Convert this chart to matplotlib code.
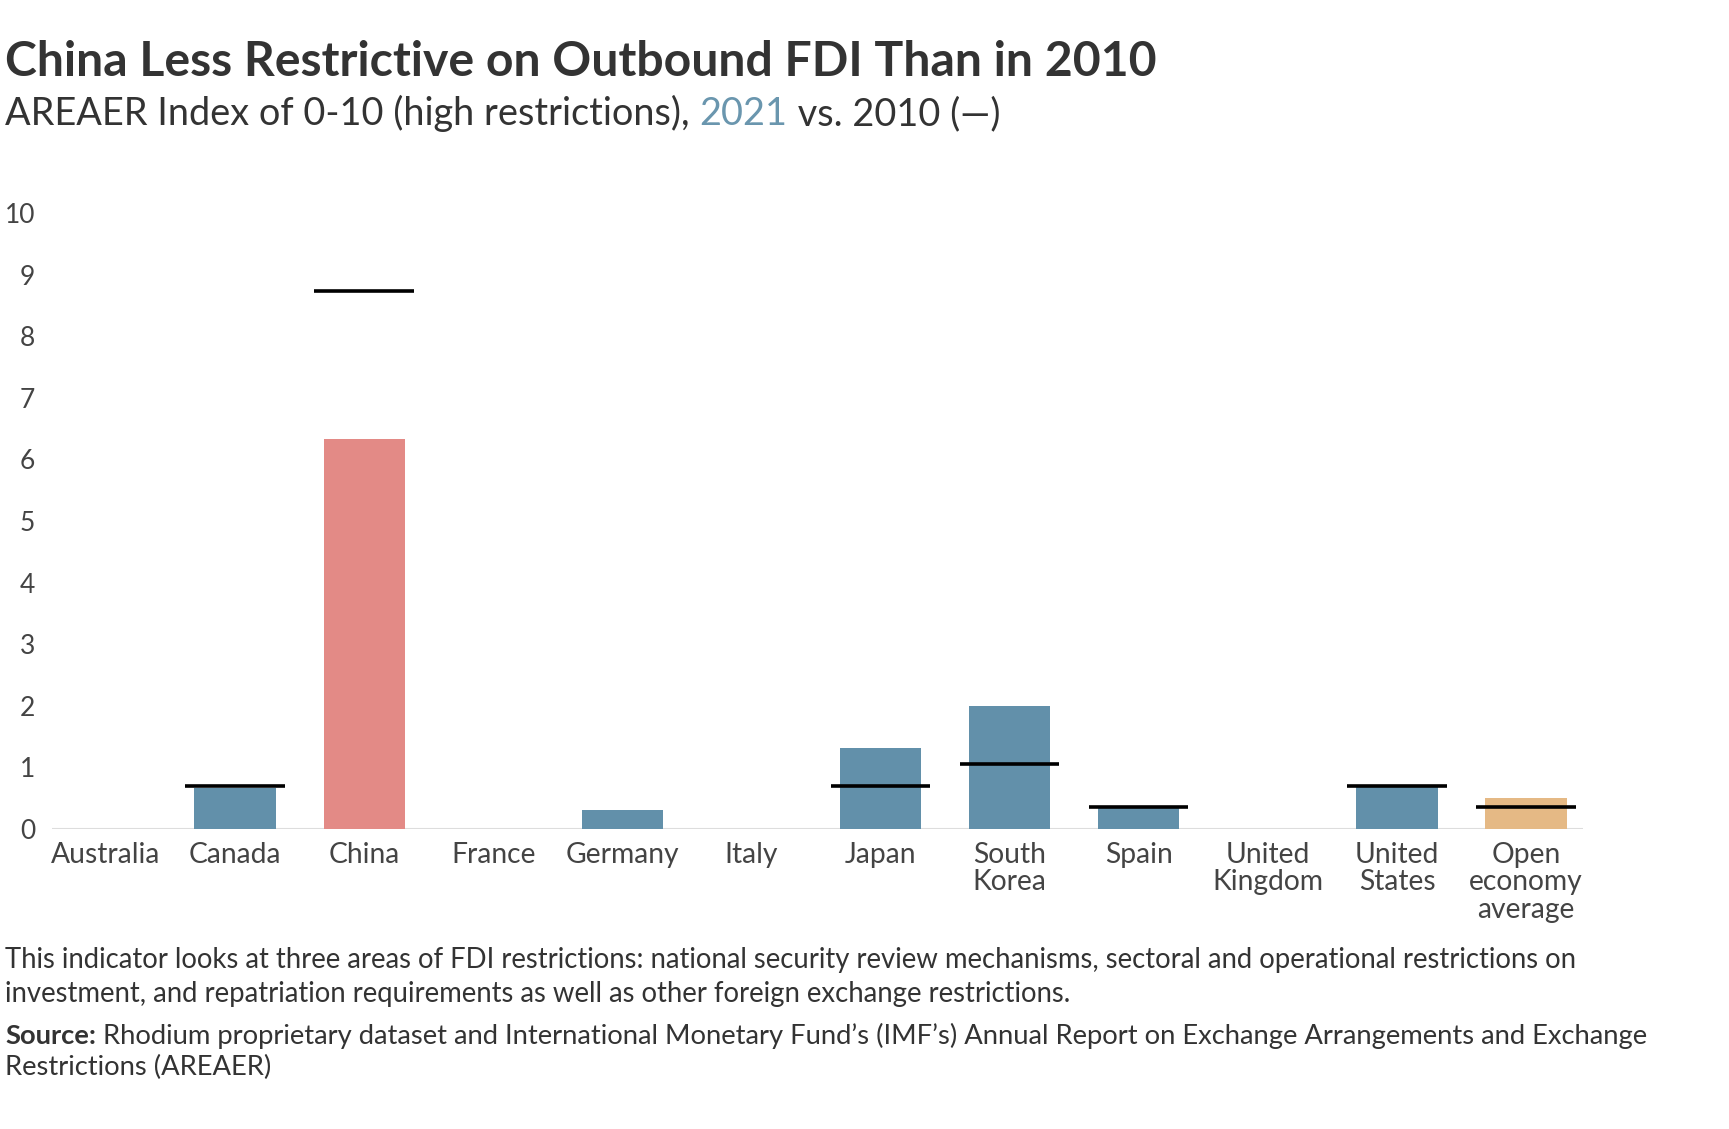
import matplotlib
matplotlib.use("Agg")
import matplotlib.pyplot as plt
import numpy as np

categories = ["Australia", "Canada", "China", "France", "Germany", "Italy", "Japan",
              "South\nKorea", "Spain", "United\nKingdom", "United\nStates", "Open\neconomy\naverage"]
values_2021 = [0.0, 0.67, 6.33, 0.0, 0.31, 0.0, 1.31, 1.99, 0.34, 0.0, 0.68, 0.51]
values_2010 = [np.nan, 0.70, 8.73, np.nan, np.nan, np.nan, 0.70, 1.06, 0.36, np.nan, 0.70, 0.35]
yticks = [0, 1, 2, 3, 4, 5, 6, 7, 8, 9, 10]

BLUE = "#6290AA"
RED = "#E38A86"
TAN = "#E5B985"
bar_colors = [BLUE] * len(categories)
bar_colors[2] = RED
bar_colors[-1] = TAN

FONT = ["Lato", "DejaVu Sans"]
plt.rcParams["font.family"] = FONT

fig = plt.figure(figsize=(17.29, 11.29), dpi=100)
ax = fig.add_axes([0.030, 0.2657, 0.8858, 0.5456])

x = np.arange(len(categories))
ax.bar(x, values_2021, width=0.63, color=bar_colors, zorder=2)
ax.hlines(values_2010, x - 0.385, x + 0.385, color="black", lw=2.6, zorder=3)
ax.axhline(0, color="#dddddd", lw=1.5, zorder=1)

ax.set_xlim(-0.419, 11.444)
ax.set_ylim(0, 10)
ax.set_yticks(yticks)
ax.set_yticklabels([str(t) for t in yticks], fontsize=19, color="#444444")
ax.set_xticks(x)
ax.set_xticklabels(categories, fontsize=20.3, color="#444444", linespacing=1.09, va="top")
ax.tick_params(axis="both", length=0)
ax.tick_params(axis="y", pad=12)
ax.tick_params(axis="x", pad=9)
for s in ax.spines.values():
    s.set_visible(False)

fig.text(0.003, 0.933, "China Less Restrictive on Outbound FDI Than in 2010",
         fontsize=34.7, fontweight="bold", color="#333333", ha="left", va="baseline")

# Subtitle with colored "2021"
sub_parts = [("AREAER Index of 0-10 (high restrictions), ", "#333333"), ("2021", "#6A96AE"), (" vs. 2010 (\u2014)", "#333333")]
renderer = fig.canvas.get_renderer()
xpos = 0.003
for txt, col in sub_parts:
    t = fig.text(xpos, 0.889, txt, fontsize=27.3, color=col, ha="left", va="baseline")
    bb = t.get_window_extent(renderer=renderer)
    xpos += bb.width / fig.bbox.width

note_lines = ["This indicator looks at three areas of FDI restrictions: national security review mechanisms, sectoral and operational restrictions on",
              "investment, and repatriation requirements as well as other foreign exchange restrictions."]
fig.text(0.003, 0.1426, note_lines[0], fontsize=19.8, color="#333333", ha="left", va="baseline")
fig.text(0.003, 0.1125, note_lines[1], fontsize=19.8, color="#333333", ha="left", va="baseline")

t1 = fig.text(0.003, 0.0753, "Source:", fontsize=19.7, fontweight="bold", color="#333333", ha="left", va="baseline")
bb = t1.get_window_extent(renderer=renderer)
fig.text(0.003 + bb.width / fig.bbox.width, 0.0753,
         " Rhodium proprietary dataset and International Monetary Fund\u2019s (IMF\u2019s) Annual Report on Exchange Arrangements and Exchange",
         fontsize=19.7, color="#333333", ha="left", va="baseline")
fig.text(0.003, 0.0478, "Restrictions (AREAER)", fontsize=19.7, color="#333333", ha="left", va="baseline")

fig.savefig("out.png", dpi=100)
